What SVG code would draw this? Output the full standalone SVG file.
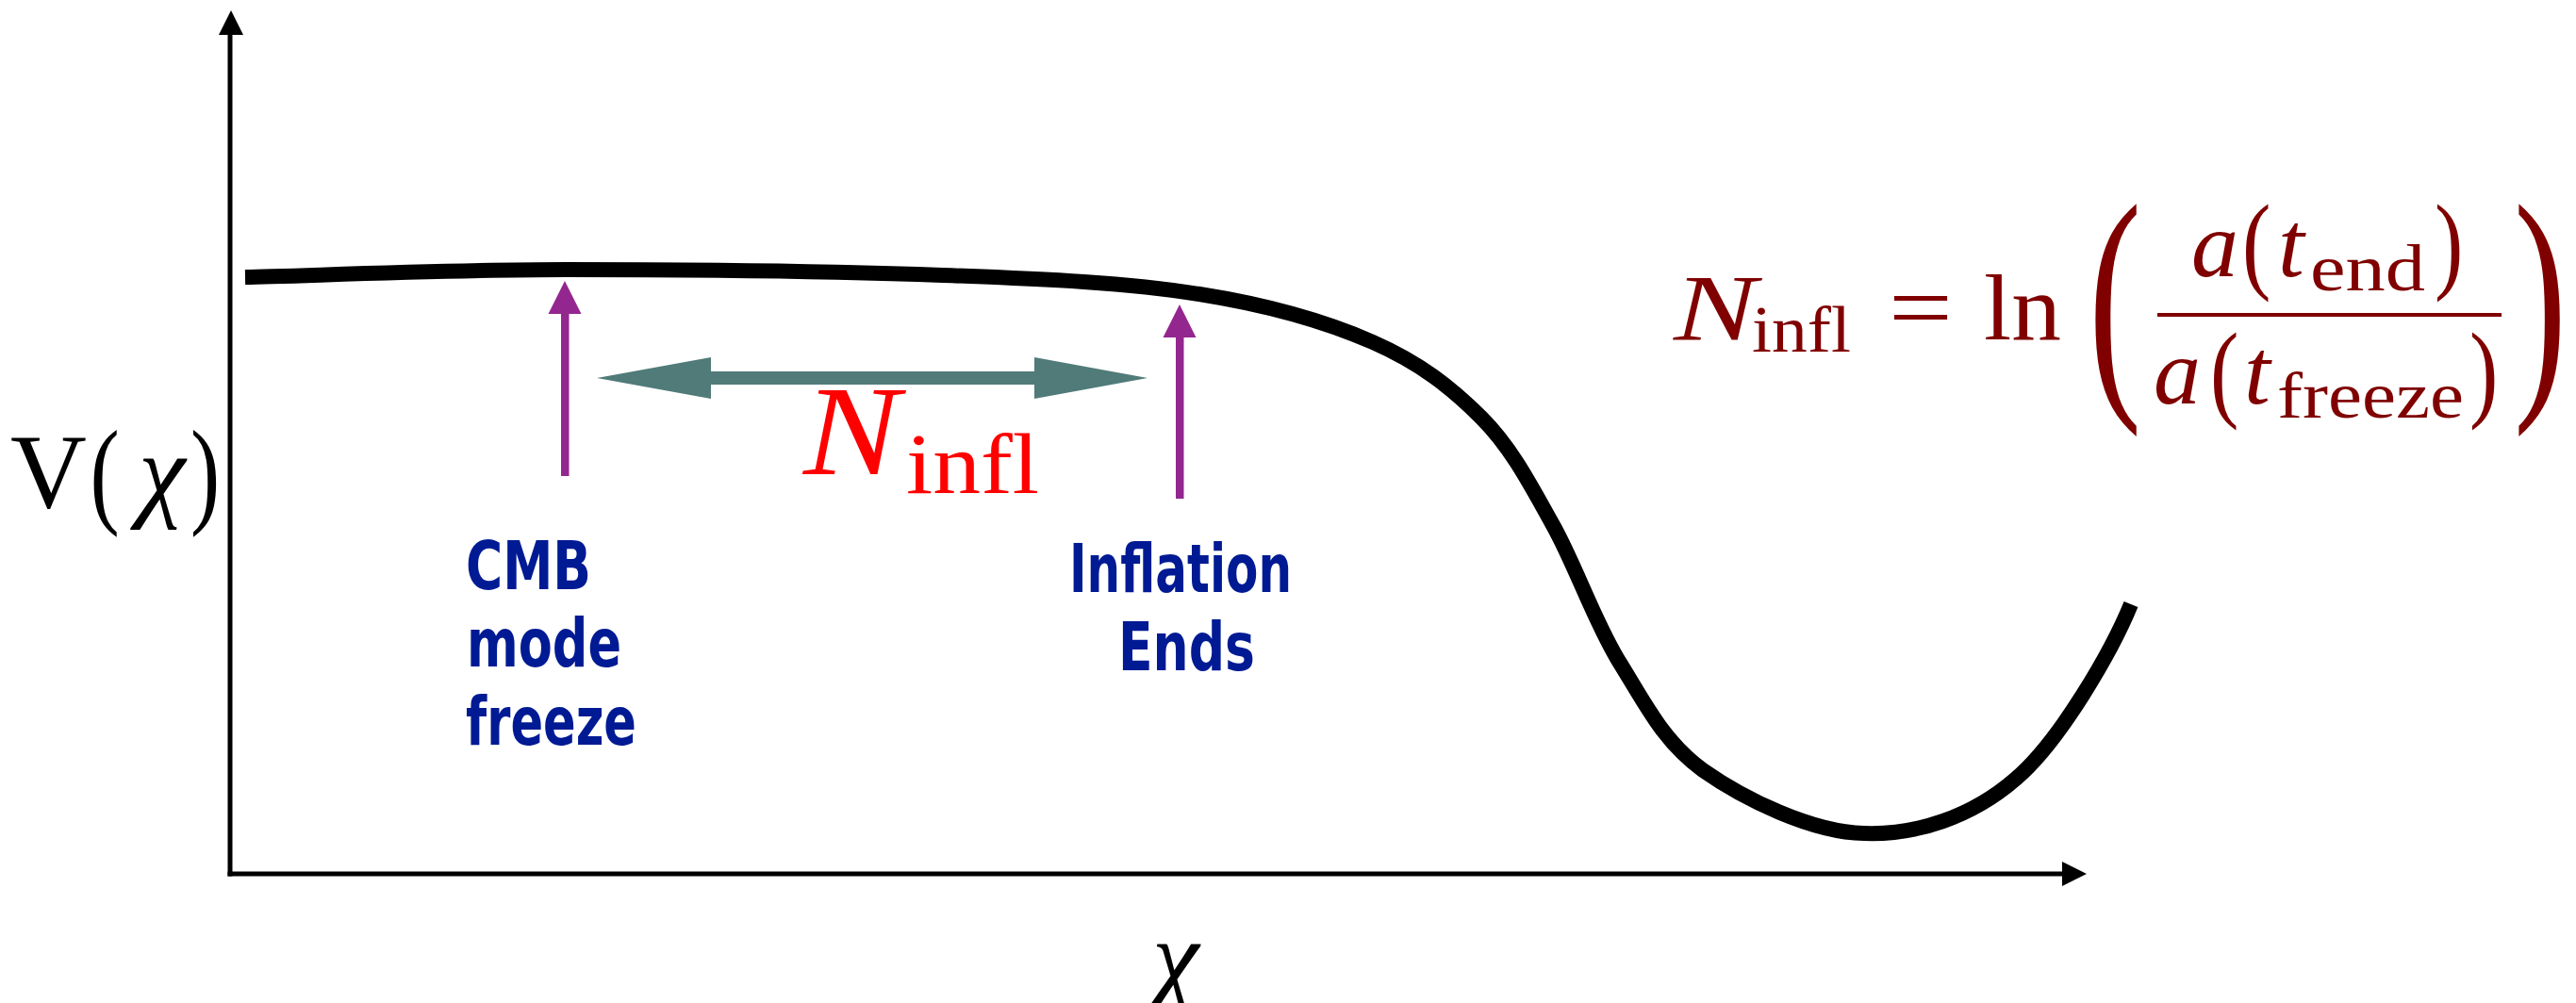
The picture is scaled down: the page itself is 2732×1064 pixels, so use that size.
<svg xmlns="http://www.w3.org/2000/svg" width="2732" height="1064" viewBox="0 0 2732 1064">
<style>
  .axis { stroke: #000; stroke-width: 5; fill: none; }
  .head { fill: #000; }
  .curve { stroke: #000; stroke-width: 16; fill: none; }
  .purple { fill: #93278f; }
  .teal { fill: #507b79; }
  .serif { font-family: "Liberation Serif", "DejaVu Serif", serif; }
  .it { font-style: italic; }
  .blue { font-family: "DejaVu Sans Condensed", "Liberation Sans Narrow", "DejaVu Sans", sans-serif; font-weight: bold; fill: #001a94; font-size: 72px; }
  .eq { fill: #800000; }
</style>
<rect width="2732" height="1064" fill="#fff"/>
<g id="axes">
  <line class="axis" x1="244" y1="32" x2="244" y2="929.5"/>
  <line class="axis" x1="241.5" y1="927" x2="2192" y2="927"/>
  <polygon class="head" points="245,11 232,37 258,37"/>
  <polygon class="head" points="2213,927 2187,914 2187,940"/>
</g>
<g id="potential-curve">
  <path class="curve" d="M260,294 C317,293 477,286 600,286 C723,286 888,288 1000,292 C1112,296 1196,300 1272,312 C1348,324 1406,341 1456,363 C1506,385 1539,411 1571,443 C1603,475 1623,514 1647,557 C1671,600 1690,657 1716,700 C1743,743 1763,786 1806,817 C1850,848 1922,883 1977,884 C2032,886 2091,867 2138,826 C2185,786 2240,690 2260,641"/>
</g>
<g id="markers">
  <g id="cmb-arrow">
    <rect class="purple" x="595" y="330" width="8.5" height="175"/>
    <polygon class="purple" points="599,298 581.5,333 616.5,333"/>
  </g>
  <g id="end-arrow">
    <rect class="purple" x="1247" y="355" width="8.5" height="174"/>
    <polygon class="purple" points="1251,323 1233.5,358 1268.5,358"/>
  </g>
  <g id="ninfl-arrow">
    <polygon class="teal" points="633,401 754,379 754,394 1097,394 1097,379 1217,401 1097,423 1097,408 754,408 754,423"/>
  </g>
</g>
<g id="labels">
  <g id="v-label" class="serif" fill="#000">
    <text x="11" y="538" font-size="112">V</text>
    <text transform="translate(95.5,543) scale(0.75,1)" font-size="125">(</text>
    <text x="147" y="538" font-size="112" class="it">χ</text>
    <text transform="translate(202,543) scale(0.75,1)" font-size="125">)</text>
  </g>
  <text id="chi-label" class="serif it" x="1222" y="1053" font-size="112" fill="#000">χ</text>
  <g id="ninfl-label" class="serif" fill="#ff0000">
    <text x="852" y="503" font-size="136" class="it" textLength="102" lengthAdjust="spacingAndGlyphs">N</text>
    <text x="961" y="523" font-size="92" textLength="141" lengthAdjust="spacingAndGlyphs">infl</text>
  </g>
  <g id="cmb-label">
    <text class="blue" x="494" y="625" textLength="133" lengthAdjust="spacingAndGlyphs">CMB</text>
    <text class="blue" x="495" y="707" textLength="164" lengthAdjust="spacingAndGlyphs">mode</text>
    <text class="blue" x="494" y="790" textLength="181" lengthAdjust="spacingAndGlyphs">freeze</text>
  </g>
  <g id="end-label">
    <text class="blue" x="1134" y="628" textLength="236" lengthAdjust="spacingAndGlyphs">Inflation</text>
    <text class="blue" x="1186" y="711" textLength="145" lengthAdjust="spacingAndGlyphs">Ends</text>
  </g>
  <g id="equation" class="serif eq">
    <text x="1775" y="360" font-size="100" class="it" textLength="88" lengthAdjust="spacingAndGlyphs">N</text>
    <text x="1858" y="373" font-size="70" textLength="105" lengthAdjust="spacingAndGlyphs">infl</text>
    <text x="2003" y="360" font-size="100" textLength="68" lengthAdjust="spacingAndGlyphs">=</text>
    <text x="2104" y="360" font-size="100" textLength="82" lengthAdjust="spacingAndGlyphs">ln</text>
    <text transform="translate(2215,405) scale(0.62,1)" font-size="272">(</text>
    <text transform="translate(2666,405) scale(0.62,1)" font-size="272">)</text>
    <rect x="2288" y="332" width="365" height="4"/>
    <text x="2324" y="293" font-size="100" class="it">a</text>
    <text transform="translate(2378,296) scale(0.8,1)" font-size="114">(</text>
    <text x="2416" y="293" font-size="100" class="it">t</text>
    <text x="2450" y="308" font-size="70" textLength="122" lengthAdjust="spacingAndGlyphs">end</text>
    <text transform="translate(2582,296) scale(0.8,1)" font-size="114">)</text>
    <text x="2284" y="428" font-size="100" class="it">a</text>
    <text transform="translate(2344,432) scale(0.8,1)" font-size="114">(</text>
    <text x="2380" y="428" font-size="100" class="it">t</text>
    <text x="2415" y="443" font-size="70" textLength="198" lengthAdjust="spacingAndGlyphs">freeze</text>
    <text transform="translate(2619,432) scale(0.8,1)" font-size="114">)</text>
  </g>
</g>
</svg>
